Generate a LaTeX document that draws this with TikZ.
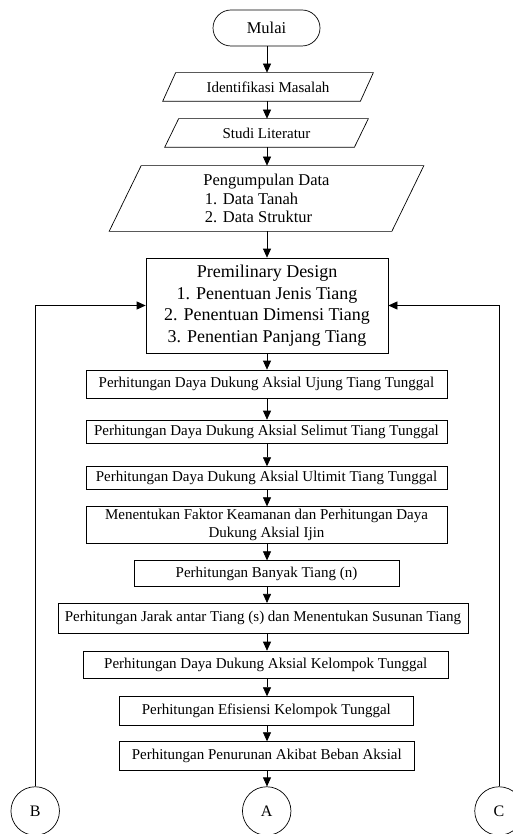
\documentclass[tikz,border=0pt]{standalone}
\usepackage{fontspec}
\setmainfont{Liberation Serif}
\usetikzlibrary{arrows.meta,calc}
\newcommand\myparal[2]{\draw ($(#1.north west)+(#2/2,0)$) -- ($(#1.north east)+(#2/2,0)$) -- ($(#1.south east)+(-#2/2,0)$) -- ($(#1.south west)+(-#2/2,0)$) -- cycle;}
\begin{document}
\begin{tikzpicture}[x=1pt,y=-1pt,line width=0.7pt,
  base/.style={rectangle,inner sep=0pt,align=center,font=\fontsize{15}{17.5}\selectfont},
  box/.style={base,draw},
  arr/.style={-{Triangle[length=9pt,width=8pt]}},
  conn/.style={draw,circle,inner sep=0pt,minimum size=48.5pt,font=\fontsize{16}{19}\selectfont}]
\useasboundingbox (0,0) rectangle (513,834);
\coordinate (mid) at (267,0);
% start
\node[box,rounded corners=18pt,minimum width=107pt,minimum height=36pt,font=\fontsize{16.5}{19}\selectfont] (mulai) at (266.5,28) {Mulai};
\node[base,minimum width=197pt,minimum height=28pt] (ident) at (268,87) {Identifikasi Masalah};
\myparal{ident}{13}
\node[base,minimum width=189pt,minimum height=28pt] (studi) at (266.5,133) {Studi Literatur};
\myparal{studi}{14}
\node[base,align=left,minimum width=282pt,minimum height=65pt,font=\fontsize{16.5}{18.3}\selectfont] (kump) at (266.5,198.5) {Pengumpulan Data\\\hspace*{1.5pt}1. Data Tanah\\\hspace*{1.5pt}2. Data Struktur};
\myparal{kump}{32}
\node[box,minimum width=242pt,minimum height=95pt,font=\fontsize{18}{21.6}\selectfont] (prem) at (267,305.5) {Premilinary Design\\1. Penentuan Jenis Tiang\\2. Penentuan Dimensi Tiang\\3. Penentian Panjang Tiang};
\node[box,minimum width=361pt,minimum height=28pt] (ujung) at (266.5,384) {Perhitungan Daya Dukung Aksial Ujung Tiang Tunggal};
\node[box,minimum width=361pt,minimum height=23.3pt] (selimut) at (266.5,431.7) {Perhitungan Daya Dukung Aksial Selimut Tiang Tunggal};
\node[box,minimum width=361pt,minimum height=22.7pt] (ultimit) at (266.5,478) {Perhitungan Daya Dukung Aksial Ultimit Tiang Tunggal};
\node[box,minimum width=361pt,minimum height=36.6pt] (faktor) at (266.5,525) {Menentukan Faktor Keamanan dan Perhitungan Daya\\Dukung Aksial Ijin};
\node[box,minimum width=265pt,minimum height=26pt] (banyak) at (266.5,573.7) {Perhitungan Banyak Tiang (n)};
\node[box,minimum width=410pt,minimum height=30pt] (jarak) at (263,618.3) {Perhitungan Jarak antar Tiang (s) dan Menentukan Susunan Tiang};
\node[box,minimum width=365pt,minimum height=27.3pt] (kelompok) at (265.8,664.7) {Perhitungan Daya Dukung Aksial Kelompok Tunggal};
\node[box,minimum width=294pt,minimum height=28.3pt] (efisiensi) at (266.3,710.8) {Perhitungan Efisiensi Kelompok Tunggal};
\node[box,minimum width=295pt,minimum height=28.3pt] (turun) at (266.8,755.8) {Perhitungan Penurunan Akibat Beban Aksial};
\node[conn] (B) at (35.2,811) {B};
\node[conn] (A) at (266.7,811) {A};
\node[conn] (C) at (499,811) {C};
% connectors
\foreach \a/\b in {mulai/ident,ident/studi,studi/kump,kump/prem,prem/ujung,ujung/selimut,selimut/ultimit,ultimit/faktor,faktor/banyak,banyak/jarak,jarak/kelompok,kelompok/efisiensi,efisiensi/turun,turun/A}
  \draw[arr] (\a.south -| mid) -- (\b.north -| mid);
\draw[arr] (B.north) |- (prem.west);
\draw[arr] (C.north) |- (prem.east);
\end{tikzpicture}
\end{document}
